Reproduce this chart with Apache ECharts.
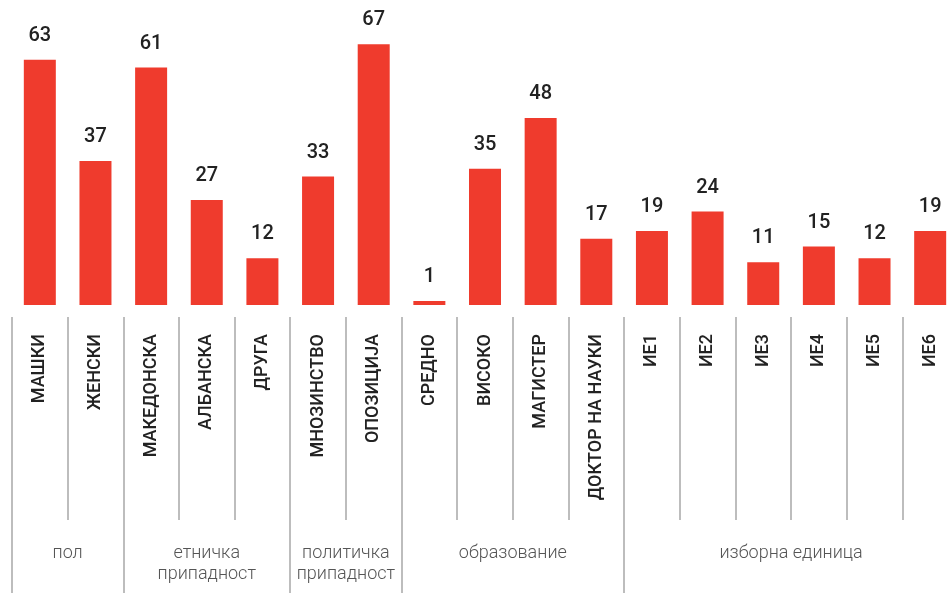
<!DOCTYPE html>
<html>
<head>
<meta charset="utf-8">
<script src="https://cdn.jsdelivr.net/npm/echarts@6/dist/echarts.min.js"></script>
<style>
html,body{margin:0;padding:0;background:#fff;}
#chart{width:952px;height:593px;}
</style>
</head>
<body>
<div id="chart"></div>
<script>
const categories = ['МАШКИ','ЖЕНСКИ','МАКЕДОНСКА','АЛБАНСКА','ДРУГА','МНОЗИНСТВО','ОПОЗИЦИЈА','СРЕДНО','ВИСОКО','МАГИСТЕР','ДОКТОР НА НАУКИ','ИЕ1','ИЕ2','ИЕ3','ИЕ4','ИЕ5','ИЕ6'];
const values = [63,37,61,27,12,33,67,1,35,48,17,19,24,11,15,12,19];
const groupNames = ['пол','етничка\nприпадност','политичка\nприпадност','образование','изборна единица'];
const groupStart = [0,2,5,7,11];
const groupEnd = [1,4,6,10,16];

const chart = echarts.init(document.getElementById('chart'));
const tickColor = '#a8a8a8';
const option = {
  backgroundColor: '#fff',
  animation: false,
  grid: {left: 12, right: -6, top: 13, bottom: 288, containLabel: false, outerBoundsMode: 'none'},
  xAxis: [
    {
      type: 'category', data: categories, position: 'bottom',
      axisLine: {show: false}, axisTick: {show: false},
      axisLabel: {rotate: 90, margin: 29, interval: 0, fontFamily: 'Roboto', fontSize: 18, fontWeight: 500, color: '#222'}
    },
    {
      type: 'category', data: categories, position: 'bottom', offset: 12,
      axisLine: {show: false}, axisLabel: {show: false},
      axisTick: {show: true, alignWithLabel: false, interval: 0, length: 203, lineStyle: {color: tickColor, width: 1.5}}
    },
    {
      type: 'category', data: categories, position: 'bottom', offset: 12,
      axisLine: {show: false}, axisLabel: {show: false},
      axisTick: {show: true, alignWithLabel: false, length: 300,
        interval: function (idx) { return groupStart.indexOf(idx) >= 0; },
        lineStyle: {color: tickColor, width: 1.5}}
    }
  ],
  yAxis: {type: 'value', min: 0, max: 75, show: false, splitLine: {show: false}},
  series: [{
    type: 'bar', xAxisIndex: 0, data: values, barWidth: 32,
    itemStyle: {color: '#ef3b2d'},
    label: {show: true, position: 'top', distance: 14, fontFamily: 'Roboto', fontSize: 20, fontWeight: 500, color: '#222'}
  }]
};
chart.setOption(option);

const graphics = groupNames.map(function (name, i) {
  const x0 = chart.convertToPixel({xAxisIndex: 0}, categories[groupStart[i]]);
  const x1 = chart.convertToPixel({xAxisIndex: 0}, categories[groupEnd[i]]);
  return {
    type: 'text', x: (x0 + x1) / 2, y: 543,
    style: {text: name, align: 'center', verticalAlign: 'top', fontFamily: 'Roboto', fontSize: 18, fontWeight: 300, lineHeight: 21, fill: '#555'}
  };
});
chart.setOption({graphic: graphics});
</script>
</body>
</html>
